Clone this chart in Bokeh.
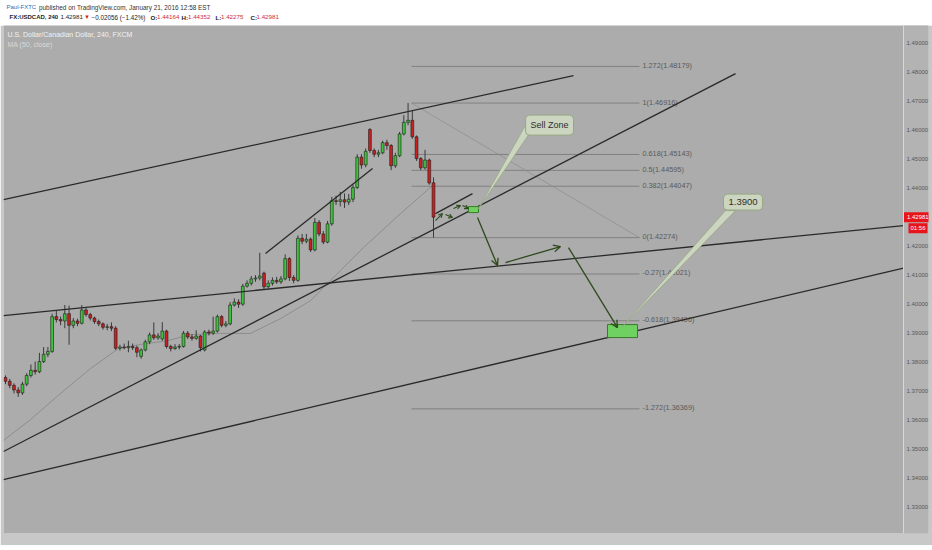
from bokeh.plotting import figure
from bokeh.layouts import column
from bokeh.models import (Range1d, FixedTicker, NumeralTickFormatter, Label, Arrow, OpenHead,
                          ColumnDataSource, Span, BoxAnnotation)
from bokeh.core.properties import value
from bokeh.embed import file_html
from bokeh.resources import INLINE

# ---------------- data ----------------
OPEN = [
    1.3745, 1.3732, 1.3718, 1.3702, 1.3692, 1.3722, 1.3752, 1.3770, 1.3765, 1.3800,
    1.3825, 1.3835, 1.3955, 1.3945, 1.3940, 1.3965, 1.3925, 1.3940, 1.3932, 1.3978,
    1.3962, 1.3950, 1.3938, 1.3930, 1.3918, 1.3920, 1.3915, 1.3846, 1.3850, 1.3848,
    1.3852, 1.3848, 1.3818, 1.3840, 1.3868, 1.3892, 1.3882, 1.3878, 1.3905, 1.3852,
    1.3845, 1.3850, 1.3852, 1.3898, 1.3885, 1.3880, 1.3888, 1.3840, 1.3902, 1.3898,
    1.3905, 1.3955, 1.3925, 1.3930, 1.3995, 1.4005, 1.3998, 1.4060, 1.4070, 1.4085,
    1.4088, 1.4105, 1.4058, 1.4070, 1.4080, 1.4075, 1.4085, 1.4155, 1.4090, 1.4080,
    1.4225, 1.4215, 1.4222, 1.4185, 1.4280, 1.4240, 1.4212, 1.4275, 1.4355, 1.4352,
    1.4358, 1.4350, 1.4360, 1.4400, 1.4505, 1.4478, 1.4600, 1.4528, 1.4515, 1.4520,
    1.4555, 1.4545, 1.4475, 1.4510, 1.4585, 1.4625, 1.4632, 1.4575, 1.4500, 1.4468,
    1.4495, 1.44164]
CLOSE = [
    1.3732, 1.3718, 1.3702, 1.3692, 1.3722, 1.3752, 1.3770, 1.3765, 1.3800, 1.3825,
    1.3835, 1.3955, 1.3945, 1.3940, 1.3965, 1.3925, 1.3940, 1.3932, 1.3978, 1.3962,
    1.3950, 1.3938, 1.3930, 1.3918, 1.3920, 1.3915, 1.3846, 1.3850, 1.3848, 1.3852,
    1.3848, 1.3832, 1.3840, 1.3868, 1.3892, 1.3882, 1.3888, 1.3905, 1.3852, 1.3845,
    1.3850, 1.3852, 1.3898, 1.3885, 1.3880, 1.3888, 1.3848, 1.3902, 1.3898, 1.3905,
    1.3955, 1.3925, 1.3930, 1.3995, 1.4005, 1.3998, 1.4060, 1.4070, 1.4085, 1.4088,
    1.4095, 1.4058, 1.4070, 1.4080, 1.4075, 1.4085, 1.4155, 1.4090, 1.4080, 1.4225,
    1.4215, 1.4222, 1.4185, 1.4280, 1.4240, 1.4212, 1.4275, 1.4355, 1.4352, 1.4358,
    1.4350, 1.4360, 1.4400, 1.4505, 1.4478, 1.4525, 1.4528, 1.4515, 1.4520, 1.4555,
    1.4545, 1.4475, 1.4510, 1.4585, 1.4625, 1.4632, 1.4575, 1.4500, 1.4468, 1.4495,
    1.4416, 1.42981]
HIGH = [
    1.3752, 1.3740, 1.3725, 1.3712, 1.3730, 1.3760, 1.3790, 1.3800, 1.3830, 1.3850,
    1.3850, 1.3965, 1.3975, 1.3955, 1.3995, 1.3993, 1.3950, 1.3948, 1.3995, 1.3985,
    1.3968, 1.3955, 1.3945, 1.3935, 1.3930, 1.3935, 1.3922, 1.3858, 1.3862, 1.3872,
    1.3862, 1.3855, 1.3845, 1.3875, 1.3900, 1.3935, 1.3898, 1.3936, 1.3910, 1.3858,
    1.3860, 1.3860, 1.3905, 1.3905, 1.3895, 1.3908, 1.3892, 1.3908, 1.3910, 1.3955,
    1.3962, 1.3960, 1.3940, 1.4005, 1.4018, 1.4015, 1.4068, 1.4080, 1.4095, 1.4098,
    1.4175, 1.4110, 1.4080, 1.4090, 1.4092, 1.4095, 1.4170, 1.4160, 1.4098, 1.4235,
    1.4240, 1.4240, 1.4228, 1.4295, 1.4288, 1.4250, 1.4285, 1.4368, 1.4372, 1.4385,
    1.4380, 1.4378, 1.4410, 1.4515, 1.4515, 1.4535, 1.4605, 1.4535, 1.4530, 1.4562,
    1.4565, 1.4550, 1.4520, 1.4592, 1.4650, 1.4692, 1.4665, 1.4580, 1.4505, 1.4530,
    1.4500, 1.44352]
LOW = [
    1.3722, 1.3708, 1.3690, 1.3678, 1.3685, 1.3715, 1.3745, 1.3755, 1.3760, 1.3795,
    1.3815, 1.3830, 1.3935, 1.3925, 1.3915, 1.3858, 1.3915, 1.3922, 1.3928, 1.3955,
    1.3942, 1.3930, 1.3922, 1.3910, 1.3908, 1.3905, 1.3840, 1.3838, 1.3842, 1.3832,
    1.3840, 1.3815, 1.3810, 1.3835, 1.3860, 1.3875, 1.3875, 1.3872, 1.3845, 1.3835,
    1.3840, 1.3842, 1.3848, 1.3878, 1.3872, 1.3875, 1.3835, 1.3835, 1.3890, 1.3892,
    1.3900, 1.3918, 1.3918, 1.3925, 1.3990, 1.3985, 1.3992, 1.4055, 1.4062, 1.4075,
    1.4080, 1.4050, 1.4052, 1.4062, 1.4068, 1.4068, 1.4080, 1.4078, 1.4070, 1.4075,
    1.4205, 1.4208, 1.4178, 1.4180, 1.4232, 1.4205, 1.4208, 1.4268, 1.4340, 1.4335,
    1.4330, 1.4340, 1.4350, 1.4395, 1.4465, 1.4470, 1.4520, 1.4505, 1.4505, 1.4515,
    1.4530, 1.4460, 1.4468, 1.4505, 1.4580, 1.4615, 1.4568, 1.4492, 1.4460, 1.4462,
    1.4410, 1.42275]
BAR = list(range(len(CLOSE)))

# MA(50, close) (bar index, price)
MA_X = [-0.47, 5.9, 12.98, 20.06, 26.67, 31.86, 38.23, 43.66, 50.74, 57.82, 64.9, 71.98, 79.05, 84.48, 93.21, 100.76]
MA_Y = [1.3528, 1.3600, 1.3690, 1.3776, 1.3845, 1.3859, 1.3872, 1.3893, 1.3897, 1.3897, 1.3948, 1.4010, 1.4114, 1.4193, 1.4310, 1.4407]

# trend lines (bar index, price)
TL_X0 = [-0.472, -0.472, -0.472, -0.472, 61.36, 101.47]
TL_Y0 = [1.43586, 1.39586, 1.34897, 1.33931, 1.41724, 1.43103]
TL_X1 = [134.04, 211.91, 172.27, 211.91, 86.61, 110.2]
TL_Y1 = [1.47862, 1.42690, 1.47931, 1.41224, 1.44655, 1.43793]

# Fibonacci retracement
FIB_LEVEL = ["1.272", "1", "0.618", "0.5", "0.382", "0", "-0.27", "-0.618", "-1.272"]
FIB_PRICE = [1.48179, 1.46916, 1.45143, 1.44595, 1.44047, 1.42274, 1.41021, 1.39406, 1.36369]
FIB_X0, FIB_X1 = 95.81, 149.61

# projected path arrows
AR_X0 = [101.47, 103.83, 105.72, 107.84, 111.39, 118.0, 132.86]
AR_Y0 = [1.42862, 1.43069, 1.43276, 1.43379, 1.42966, 1.41414, 1.41931]
AR_X1 = [103.12, 105.48, 107.37, 109.26, 116.1, 130.97, 144.42]
AR_Y1 = [1.43103, 1.42966, 1.43379, 1.43276, 1.41310, 1.41966, 1.39172]

# zones
BOX_L = [109.26, 142.06]
BOX_R = [111.62, 149.14]
BOX_B = [1.43138, 1.38828]
BOX_T = [1.43345, 1.39276]

# callouts
CALLOUT_TEXT = ["Sell Zone", "1.3900"]
CALLOUT_X = [128.38, 174.04]
CALLOUT_Y = [1.46155, 1.43500]
POINTER_XS = [[123.19, 125.55, 111.62], [169.91, 172.27, 145.37]]
POINTER_YS = [[1.46276, 1.46276, 1.43276], [1.43207, 1.43207, 1.39172]]

PRICE_TICKS = [1.33, 1.34, 1.35, 1.36, 1.37, 1.38, 1.39, 1.40, 1.41, 1.42, 1.43, 1.44, 1.45, 1.46, 1.47, 1.48, 1.49]
LAST_PRICE = 1.42981
COUNTDOWN = "01:56"

# header texts
HEADER_TEXT = ["Paul-FXTC", "published on TradingView.com, January 21, 2016 12:58 EST",
               "FX:USDCAD, 240", "1.42981", "\u25BC", "\u22120.02056 (\u22121.42%)",
               "O:", "1.44164", "H:", "1.44352", "L:", "1.42275", "C:", "1.42981"]
HEADER_X = [3, 35.5, 6, 57, 80.5, 88, 147, 153.5, 178, 184.5, 212, 217.5, 247, 253]
HEADER_Y = [6.5, 6.5] + [16.5] * 12
HEADER_COLOR = ["#2f6db3", "#333333", "#222222", "#222222", "#cc1f1f", "#222222",
                "#222222", "#d0283c", "#222222", "#d0283c", "#222222", "#d0283c", "#222222", "#d0283c"]
HEADER_STYLE = ["normal", "normal", "bold", "normal", "normal", "normal",
                "bold", "normal", "bold", "normal", "bold", "normal", "bold", "normal"]
HEADER_SIZE = ["6px", "6.4px", "6px", "6.2px", "6px", "6.3px",
               "6.2px", "6.2px", "6.2px", "6.2px", "6.2px", "6.2px", "6.2px", "6.2px"]

# ---------------- layout helpers (reference pixel -> data) ----------------
FRAME_L, FRAME_R, FRAME_T, FRAME_B = 3, 903, 25, 533
X0, X1 = -0.472, 211.91
Y0, Y1 = 1.3207, 1.4959


def X(rx):
    return X0 + (rx - FRAME_L) / (FRAME_R - FRAME_L) * (X1 - X0)


def Y(ry):
    return Y1 - (ry - FRAME_T) / (FRAME_B - FRAME_T) * (Y1 - Y0)


FONT = "Liberation Sans"

# ---------------- header strip ----------------
h = figure(frame_width=932, frame_height=25, x_range=Range1d(0, 932), y_range=Range1d(25, 0),
           output_backend="svg", toolbar_location=None, x_axis_type=None, y_axis_type=None,
           min_border=0, background_fill_color="white", border_fill_color="white",
           outline_line_color=None)
h.grid.visible = False
hsrc = ColumnDataSource(dict(x=HEADER_X, y=HEADER_Y, text=HEADER_TEXT, color=HEADER_COLOR,
                             style=HEADER_STYLE, size=HEADER_SIZE))
h.text("x", "y", text="text", source=hsrc, text_color="color", text_font_style="style",
       text_font_size="size", text_font=value(FONT), text_baseline="middle")

# ---------------- main chart ----------------
p = figure(frame_width=925, frame_height=508,
           x_range=Range1d(X0, X(928)), y_range=Range1d(Y0, Y1),
           output_backend="svg", toolbar_location=None, y_axis_location="right",
           x_axis_location=None,
           min_border_left=3, min_border_top=0, min_border_bottom=12, min_border_right=4,
           background_fill_color="#acacac", border_fill_color="#c8c8c8",
           outline_line_color=None)
p.grid.visible = False

p.yaxis.ticker = FixedTicker(ticks=PRICE_TICKS)
p.yaxis.formatter = NumeralTickFormatter(format="0.00000")
p.yaxis.major_label_text_font_size = "6px"
p.yaxis.major_label_text_font = FONT
p.yaxis.major_label_text_color = "#585858"
p.yaxis.major_tick_out = 0
p.yaxis.major_tick_in = 0
p.yaxis.major_tick_line_color = None
p.yaxis.minor_tick_line_color = None
p.yaxis.axis_line_color = None
p.yaxis.major_label_standoff = -22

# price-scale strip
p.add_layout(BoxAnnotation(left=X(903), fill_color="#b3b3b3", fill_alpha=1, line_color=None,
                           level="underlay"))
p.add_layout(Span(location=X(903), dimension="height", line_color="#d8d8d8", line_width=1))

# fib lines
p.segment([FIB_X0] * len(FIB_PRICE), FIB_PRICE, [FIB_X1] * len(FIB_PRICE), FIB_PRICE,
          line_color="#808080", line_width=1)
fib_labels = [f"{lv}({pr:.5f})" for lv, pr in zip(FIB_LEVEL, FIB_PRICE)]
p.text([FIB_X1 + 0.7] * len(FIB_PRICE), FIB_PRICE, text=fib_labels,
       text_font=value(FONT), text_font_size="7.3px", text_color="#5a5a5a",
       text_baseline="middle", y_offset=-1)
p.line([FIB_X0, FIB_X1], [FIB_PRICE[1], FIB_PRICE[5]], line_color="#8c8c8c", line_width=0.7)

# moving average
p.line(MA_X, MA_Y, line_color="#8a8a8a", line_width=0.9)

# candles
up = [c >= o for o, c in zip(OPEN, CLOSE)]
src = ColumnDataSource(dict(
    x=BAR, high=HIGH, low=LOW,
    top=[max(o, c) for o, c in zip(OPEN, CLOSE)],
    bottom=[min(o, c) for o, c in zip(OPEN, CLOSE)],
    color=["#3ec43a" if u else "#cc1f1f" for u in up],
))
p.segment("x", "high", "x", "low", source=src, line_color="#3a3a3a", line_width=1)
p.vbar(x="x", width=0.66, top="top", bottom="bottom", source=src,
       fill_color="color", line_color="#1c1c1c", line_width=0.6)

# trend lines
p.segment(TL_X0, TL_Y0, TL_X1, TL_Y1, line_color="#2a2a2a", line_width=1.3)

# zones
p.quad(left=BOX_L, right=BOX_R, bottom=BOX_B, top=BOX_T,
       fill_color="#6fd162", line_color="#3b7a2b", line_width=1)

# arrows
ARROW_COLOR = "#2d4a1c"
small = ColumnDataSource(dict(x0=AR_X0[:4], y0=AR_Y0[:4], x1=AR_X1[:4], y1=AR_Y1[:4]))
big = ColumnDataSource(dict(x0=AR_X0[4:], y0=AR_Y0[4:], x1=AR_X1[4:], y1=AR_Y1[4:]))
p.add_layout(Arrow(end=OpenHead(size=4, line_color=ARROW_COLOR, line_width=1.1),
                   x_start="x0", y_start="y0", x_end="x1", y_end="y1", source=small,
                   line_color=ARROW_COLOR, line_width=1.1))
p.add_layout(Arrow(end=OpenHead(size=7, line_color=ARROW_COLOR, line_width=1.3),
                   x_start="x0", y_start="y0", x_end="x1", y_end="y1", source=big,
                   line_color=ARROW_COLOR, line_width=1.3))

# callouts
CALLOUT_FILL = "#cbd5bf"
CALLOUT_LINE = "#97a884"
p.patches(POINTER_XS, POINTER_YS, fill_color=CALLOUT_FILL, line_color=CALLOUT_LINE, line_width=0.8)
for t, cx, cy, fs in zip(CALLOUT_TEXT, CALLOUT_X, CALLOUT_Y, ["9px", "9.5px"]):
    p.add_layout(Label(x=cx, y=cy, text=t, text_align="center", text_baseline="middle",
                       text_font=FONT, text_font_size=fs, text_color="#2e2e2e",
                       background_fill_color=CALLOUT_FILL, border_line_color=CALLOUT_LINE,
                       border_radius=4, padding=5))

# in-chart titles
p.add_layout(Label(x=X(7), y=Y(34), text="U.S. Dollar/Canadian Dollar, 240, FXCM",
                   text_font=FONT, text_font_size="7px", text_color="#f2f2f2",
                   text_baseline="middle"))
p.add_layout(Label(x=X(7), y=Y(43.5), text="MA (50, close)",
                   text_font=FONT, text_font_size="7px", text_color="#dadada",
                   text_baseline="middle"))

# last price tag + countdown on the price scale
p.add_layout(Label(x=X(903.5), y=LAST_PRICE, text=f"{LAST_PRICE:.5f}", text_font=FONT,
                   text_font_size="6px", text_color="white", text_baseline="middle",
                   background_fill_color="#e8141c", padding=3, level="overlay"))
p.add_layout(Label(x=X(927), y=LAST_PRICE, y_offset=-11, text=COUNTDOWN, text_font=FONT,
                   text_font_size="6px", text_color="white", text_baseline="middle",
                   text_align="right", background_fill_color="#e8141c", padding=2,
                   level="overlay"))

layout = column(h, p, spacing=0)
open("out.html", "w").write(file_html(layout, INLINE))
